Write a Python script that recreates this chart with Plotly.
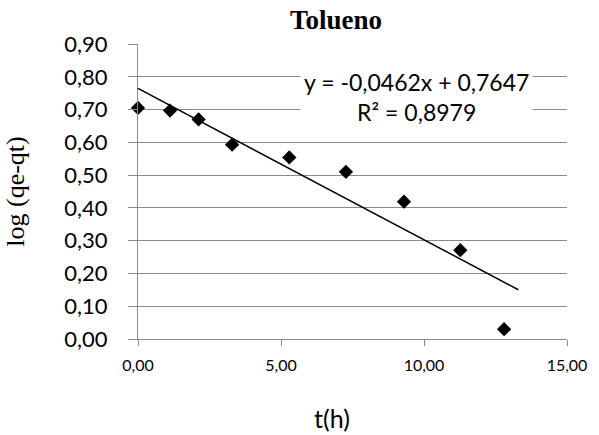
import plotly.graph_objects as go

# Sampling times (h) and log(qe - qt) for toluene
t_h = [0.0, 1.12, 2.12, 3.29, 5.29, 7.27, 9.30, 11.27, 12.80]
log_qe_qt = [0.705, 0.697, 0.670, 0.593, 0.554, 0.510, 0.419, 0.271, 0.030]

# Linear trendline (Excel style) and its statistics
slope = -0.0462
intercept = 0.7647
r_squared = 0.8979
trend_x = [0.0, 13.3]
trend_y = [slope * x + intercept for x in trend_x]

x_ticks = [0, 5, 10, 15]
y_ticks = [round(0.1 * i, 2) for i in range(10)]

GRID = "#8a8a8a"
SANS = "Lato"
SERIF = "Times New Roman"


def comma(v, nd):
    return f"{v:.{nd}f}".replace(".", ",")


fig = go.Figure()

fig.add_trace(go.Scatter(
    x=t_h, y=log_qe_qt, mode="markers",
    marker=dict(symbol="diamond", size=11, color="black"),
    showlegend=False, cliponaxis=False,
))

fig.add_trace(go.Scatter(
    x=trend_x, y=trend_y, mode="lines",
    line=dict(color="black", width=1.5),
    showlegend=False,
))

eq_text = (f"y = {comma(slope, 4)}x + {comma(intercept, 4)}<br>"
           f"R² = {comma(r_squared, 4)}")

fig.update_layout(
    width=599, height=435,
    margin=dict(l=138, r=22, t=44, b=96),
    paper_bgcolor="white", plot_bgcolor="white",
    separators=",.",
    showlegend=False,
    title=dict(text="<b>Tolueno</b>", x=336 / 599, xanchor="center",
               y=1 - 20 / 435, yanchor="middle",
               font=dict(family=SERIF, size=27, color="black")),
    xaxis=dict(
        range=[0, 15], tickvals=x_ticks, tickformat=".2f",
        showgrid=False, zeroline=False,
        showline=True, linecolor=GRID, linewidth=1.3,
        ticks="outside", ticklen=6, tickcolor=GRID, tickwidth=1.3,
        ticklabelstandoff=6,
        tickfont=dict(family=SANS, size=16, color="black"),
    ),
    yaxis=dict(
        range=[0, 0.9002], tickvals=y_ticks, tickformat=".2f",
        showgrid=True, gridcolor=GRID, gridwidth=1.3,
        zeroline=False,
        showline=True, linecolor=GRID, linewidth=1.3,
        ticks="outside", ticklen=9, tickcolor=GRID, tickwidth=1.3,
        ticklabelstandoff=16,
        tickfont=dict(family=SANS, size=22, color="black"),
        title=dict(text="log (qe-qt)", standoff=32,
                   font=dict(family=SERIF, size=26, color="black")),
    ),
    annotations=[
        dict(text="t(h)", xref="paper", yref="paper",
             x=(337 - 138) / 439, y=(339 - 418) / 295,
             xanchor="center", yanchor="middle", showarrow=False,
             font=dict(family=SANS, size=25, color="black")),
        dict(text=eq_text, xref="paper", yref="paper",
             x=(423 - 138) / 439, y=(339 - 97) / 295,
             xanchor="center", yanchor="middle", showarrow=False,
             align="center", bgcolor="white", borderpad=3,
             font=dict(family=SANS, size=23, color="black")),
    ],
)

fig.write_html("out.html")
